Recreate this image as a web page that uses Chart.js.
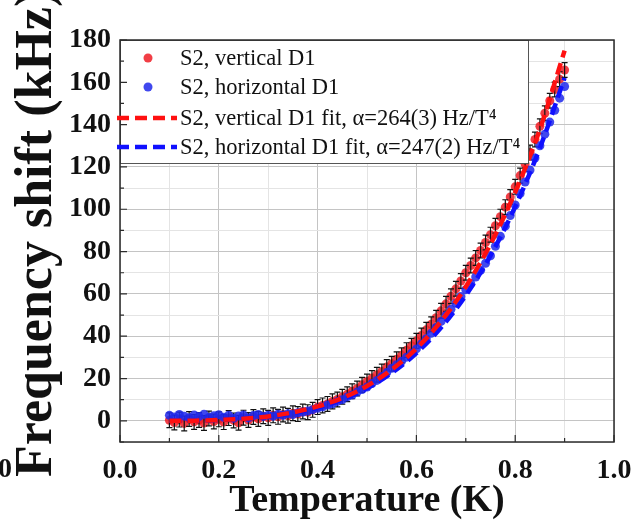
<!DOCTYPE html>
<html>
<head>
<meta charset="utf-8">
<script src="https://cdn.jsdelivr.net/npm/chart.js@4"></script>
<style>
  html, body { margin: 0; padding: 0; background: #fff; }
  #chart { display: block; }
</style>
</head>
<body>
<canvas id="chart" width="635" height="527"></canvas>
<script>
// Temperature (K) of each measured point
const temps = [
  0.10, 0.11, 0.12, 0.13, 0.14, 0.15, 0.16, 0.17, 0.18, 0.19,
  0.20, 0.21, 0.22, 0.23, 0.24, 0.25, 0.26, 0.27, 0.28, 0.29,
  0.30, 0.31, 0.32, 0.33, 0.34, 0.35, 0.36, 0.37, 0.38, 0.39,
  0.40, 0.41, 0.42, 0.43, 0.44, 0.45, 0.46, 0.47, 0.48, 0.49,
  0.50, 0.51, 0.52, 0.53, 0.54, 0.55, 0.56, 0.57, 0.58, 0.59,
  0.60, 0.61, 0.62, 0.63, 0.64, 0.65, 0.66, 0.67, 0.68, 0.69,
  0.70, 0.71, 0.72, 0.73, 0.74, 0.75, 0.76, 0.77, 0.78, 0.79,
  0.80, 0.81, 0.82, 0.83, 0.84, 0.85, 0.86, 0.87, 0.88, 0.89,
  0.90,
];

// S2, vertical D1 (kHz)
const redShift = [
  0.3, -0.8, 0.6, -1.2, 0.9, -0.5, 0.4, -1.0, 1.1, -0.3,
  0.7, -0.6, 1.3, 0.2, -0.9, 1.5, 0.4, 1.8, 0.9, 2.2,
  1.4, 2.6, 1.9, 3.0, 2.4, 3.6, 3.2, 4.4, 4.1, 5.2,
  6.5, 7.3, 8.0, 9.2, 10.1, 11.4, 12.6, 14.0, 15.3, 17.0,
  18.6, 20.2, 21.8, 23.3, 25.4, 27.0, 29.1, 31.0, 33.4, 35.5,
  37.8, 40.3, 43.0, 45.6, 48.7, 52.0, 55.3, 58.9, 62.4, 66.1,
  70.0, 73.4, 77.0, 80.5, 84.3, 88.0, 92.2, 96.5, 101.0, 105.8,
  110.6, 115.9, 121.4, 126.8, 133.0, 139.2, 145.4, 151.3, 156.6, 161.5,
  165.8,
];

// S2, horizontal D1 (kHz)
const blueShift = [
  2.6, 1.8, 3.0, 2.2, 1.5, 2.8, 2.0, 3.1, 1.6, 2.4,
  2.9, 1.7, 2.6, 1.2, 2.3, 2.8, 1.4, 2.5, 3.0, 2.1,
  2.7, 2.2, 3.1, 2.6, 3.4, 3.0, 3.8, 4.2, 4.6, 5.3,
  6.0, 6.6, 7.5, 8.1, 9.2, 10.0, 11.3, 12.2, 13.6, 14.8,
  16.0, 17.6, 19.1, 20.9, 22.8, 24.8, 26.5, 28.2, 30.1, 32.0,
  34.0, 36.3, 38.8, 41.4, 44.1, 47.0, 49.8, 52.7, 55.6, 58.8,
  62.0, 64.9, 68.0, 71.2, 74.5, 78.0, 82.5, 87.2, 92.0, 97.0,
  102.0, 107.4, 112.9, 118.5, 124.2, 130.0, 135.5, 141.2, 146.8, 152.5,
  158.0,
];

// half height of the black error bars (kHz)
const shiftError = 3.5;

// fitted curves
const fitTemps = [0.10, 0.15, 0.20, 0.25, 0.30, 0.35, 0.40, 0.45, 0.50, 0.55, 0.60, 0.65, 0.70, 0.75, 0.80, 0.85, 0.90];
const redFit = [0.0, 0.1, 0.4, 1.0, 2.1, 4.0, 6.8, 10.8, 16.5, 24.2, 34.2, 47.1, 63.4, 83.5, 108.1, 137.8, 175.0];
const blueFit = [0.0, 0.1, 0.4, 1.0, 2.0, 3.7, 6.3, 10.1, 15.4, 22.6, 32.0, 44.1, 59.3, 78.1, 101.2, 129.0, 162.1];

const legendLabels = [
  'S2, vertical D1',
  'S2, horizontal D1',
  'S2, vertical D1 fit, \u03b1=264(3) Hz/T\u2074',
  'S2, horizontal D1 fit, \u03b1=247(2) Hz/T\u2074',
];

const serif = '"Liberation Serif", "Times New Roman", serif';
const red = 'rgba(238, 28, 36, 0.85)';
const blue = 'rgba(30, 40, 235, 0.85)';

const toPoints = (xs, ys) => xs.map((x, i) => ({ x, y: ys[i] }));

// black error bars on the vertical D1 points
const errorBars = {
  id: 'errorBars',
  afterDatasetDraw(chart, args) {
    if (args.index !== 3) return;
    const { ctx, scales: { x, y } } = chart;
    ctx.save();
    ctx.strokeStyle = '#111';
    ctx.lineWidth = 1.2;
    temps.forEach((t, i) => {
      const px = x.getPixelForValue(t);
      const hi = y.getPixelForValue(redShift[i] + shiftError);
      const lo = y.getPixelForValue(redShift[i] - shiftError);
      ctx.beginPath();
      ctx.moveTo(px, hi);
      ctx.lineTo(px, lo);
      ctx.moveTo(px - 3, hi);
      ctx.lineTo(px + 3, hi);
      ctx.moveTo(px - 3, lo);
      ctx.lineTo(px + 3, lo);
      ctx.stroke();
    });
    ctx.restore();
  },
};

// frame, inward ticks, legend box and the big rotated y title
const decorations = {
  id: 'decorations',
  afterDraw(chart) {
    const { ctx, chartArea: { left, right, top, bottom }, scales: { x, y } } = chart;
    ctx.save();

    // legend box
    const boxRight = 528;
    const boxBottom = 163;
    ctx.fillStyle = '#fff';
    ctx.fillRect(left, top, boxRight - left, boxBottom - top);
    ctx.strokeStyle = '#555';
    ctx.lineWidth = 1;
    ctx.strokeRect(left + 0.5, top + 0.5, boxRight - left, boxBottom - top);

    // plot frame
    ctx.strokeStyle = '#2b2b2b';
    ctx.lineWidth = 1.5;
    ctx.strokeRect(left, top, right - left, bottom - top);

    // inward tick marks
    ctx.lineWidth = 1.2;
    ctx.beginPath();
    x.ticks.forEach(t => {
      const px = x.getPixelForValue(t.value);
      const major = Math.round(t.value * 10) % 2 === 0;
      ctx.moveTo(px, bottom);
      ctx.lineTo(px, bottom - (major ? 7 : 4));
    });
    y.ticks.forEach(t => {
      const py = y.getPixelForValue(t.value);
      const major = Math.round(t.value) % 20 === 0;
      ctx.moveTo(left, py);
      ctx.lineTo(left + (major ? 7 : 4), py);
    });
    ctx.stroke();

    // legend entries
    const rows = [58, 87, 118, 147];
    ctx.fillStyle = red;
    ctx.beginPath();
    ctx.arc(148, rows[0], 4.5, 0, Math.PI * 2);
    ctx.fill();
    ctx.fillStyle = blue;
    ctx.beginPath();
    ctx.arc(148, rows[1], 4.5, 0, Math.PI * 2);
    ctx.fill();
    ctx.lineWidth = 4.5;
    ctx.setLineDash([12, 6]);
    ctx.strokeStyle = '#ff1010';
    ctx.beginPath();
    ctx.moveTo(117, rows[2]);
    ctx.lineTo(177, rows[2]);
    ctx.stroke();
    ctx.strokeStyle = '#1010ff';
    ctx.beginPath();
    ctx.moveTo(117, rows[3]);
    ctx.lineTo(177, rows[3]);
    ctx.stroke();
    ctx.setLineDash([]);

    ctx.fillStyle = '#111';
    ctx.font = '22.5px ' + serif;
    ctx.textAlign = 'left';
    ctx.textBaseline = 'middle';
    legendLabels.forEach((label, i) => ctx.fillText(label, 180, rows[i] + 1));

    // y axis title, drawn by hand so it is not squeezed to the axis height
    ctx.translate(51, 477);
    ctx.rotate(-Math.PI / 2);
    ctx.font = 'bold 52px ' + serif;
    ctx.textBaseline = 'alphabetic';
    ctx.fillText('Frequency shift (kHz)', 0, 0);
    ctx.restore();

    // cut-off label of the neighbouring panel at the left edge
    ctx.save();
    ctx.font = 'bold 28px ' + serif;
    ctx.fillStyle = '#111';
    ctx.textAlign = 'right';
    ctx.textBaseline = 'middle';
    ctx.fillText('1.0', 12, 470);
    ctx.restore();
  },
};

new Chart(document.getElementById('chart'), {
  type: 'scatter',
  data: {
    datasets: [
      {
        type: 'line',
        label: legendLabels[2],
        data: toPoints(fitTemps, redFit),
        borderColor: '#ff1010',
        borderWidth: 4.5,
        borderDash: [12, 6],
        pointRadius: 0,
        cubicInterpolationMode: 'monotone',
        fill: false,
        order: 0,
      },
      {
        type: 'line',
        label: legendLabels[3],
        data: toPoints(fitTemps, blueFit),
        borderColor: '#1010ff',
        borderWidth: 4.5,
        borderDash: [12, 6],
        pointRadius: 0,
        cubicInterpolationMode: 'monotone',
        fill: false,
        order: 1,
      },
      {
        label: legendLabels[1],
        data: toPoints(temps, blueShift),
        backgroundColor: blue,
        borderWidth: 0,
        pointRadius: 4.5,
        order: 2,
      },
      {
        label: legendLabels[0],
        data: toPoints(temps, redShift),
        backgroundColor: red,
        borderWidth: 0,
        pointRadius: 4.5,
        order: 3,
      },
    ],
  },
  options: {
    responsive: false,
    animation: false,
    layout: { padding: { top: 40, right: 21, left: 0, bottom: 0 } },
    plugins: {
      legend: { display: false },
      tooltip: { enabled: false },
    },
    scales: {
      x: {
        type: 'linear',
        min: 0,
        max: 1,
        afterFit: scale => {
          scale.height = 85;
          scale.paddingLeft = 0;
          scale.paddingRight = 0;
        },
        ticks: {
          stepSize: 0.1,
          autoSkip: false,
          maxRotation: 0,
          padding: 12,
          color: '#111',
          font: { family: serif, size: 28, weight: 'bold' },
          callback: v => {
            const k = Math.round(v * 10);
            return k % 2 === 0 ? (k / 10).toFixed(1) : '';
          },
        },
        grid: {
          drawTicks: false,
          color: c => (Math.round(c.tick.value * 10) % 2 === 0 ? '#c4c4c4' : '#e4e4e4'),
        },
        border: { display: false },
        title: {
          display: true,
          text: 'Temperature (K)',
          color: '#111',
          font: { family: serif, size: 38, weight: 'bold' },
          padding: { top: 0, bottom: 3 },
        },
      },
      y: {
        min: -10,
        max: 180,
        afterFit: scale => {
          scale.width = 120;
          scale.paddingTop = 0;
          scale.paddingBottom = 0;
        },
        ticks: {
          stepSize: 10,
          autoSkip: false,
          padding: 9,
          color: '#111',
          font: { family: serif, size: 28, weight: 'bold' },
          callback: v => (v % 20 === 0 ? v : ''),
        },
        grid: {
          drawTicks: false,
          color: c => (Math.round(c.tick.value) % 20 === 0 ? '#c4c4c4' : '#e4e4e4'),
        },
        border: { display: false },
      },
    },
  },
  plugins: [errorBars, decorations],
});
</script>
</body>
</html>
